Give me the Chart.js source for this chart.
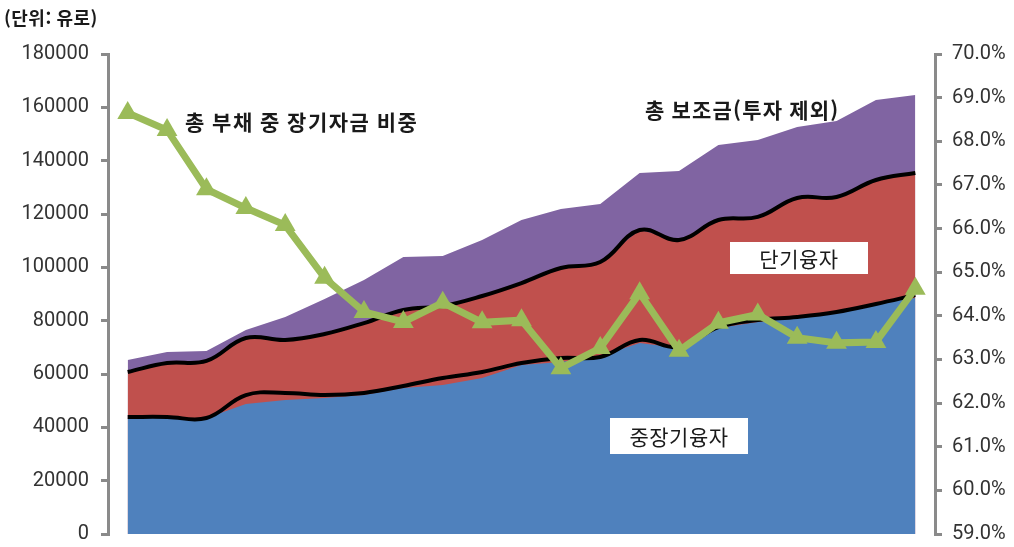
<!DOCTYPE html>
<html lang="ko">
<head>
<meta charset="utf-8">
<title>부채 구성과 장기자금 비중</title>
<script src="https://cdn.jsdelivr.net/npm/chart.js@4.4.1/dist/chart.umd.min.js"></script>
<style>
  html, body { margin: 0; padding: 0; background: #ffffff; }
  #wrap { width: 1014px; height: 547px; position: relative; }
  canvas { display: block; }
</style>
</head>
<body>
<div id="wrap"><canvas id="chart" width="1014" height="547"></canvas></div>
<script>
// Periods along the horizontal axis (no labels are printed for them)
const periods = ['1','2','3','4','5','6','7','8','9','10','11','12','13','14','15','16','17','18','19','20','21'];

// Stacked components, in euros
const longTermLoans  = [43500, 43500, 43500, 48750, 50250, 51000, 52100, 54750, 55900, 58500, 63400, 64500, 66750, 71600, 69750, 77250, 79500, 81000, 83250, 86600, 88500];
const shortTermLoans = [17250, 20600, 21400, 24750, 22500, 24000, 27000, 29250, 29600, 30750, 30700, 35250, 35250, 42400, 40500, 40500, 39400, 45000, 43150, 46150, 47500];
const subsidies      = [4500, 4150, 3700, 3000, 8650, 13100, 16150, 19900, 18750, 21000, 23650, 22150, 21750, 21400, 25850, 28150, 28850, 26600, 28500, 30000, 28600];

// Smoothed black trend lines, in euros
const longTermTrend  = [43900, 43900, 43500, 52100, 52900, 52100, 52900, 55500, 58500, 60750, 64100, 66000, 66400, 72750, 70100, 77600, 80250, 81400, 83250, 86250, 89600];
const loanTotalTrend = [60750, 64100, 64900, 73500, 72750, 75000, 79100, 84000, 85500, 89250, 94100, 99750, 102000, 114000, 110250, 117750, 118900, 126000, 126400, 132750, 135400];

// Share of long-term funds in total debt, in percent
const longTermShare  = [68.65, 68.26, 66.9, 66.47, 66.08, 64.87, 64.09, 63.86, 64.3, 63.85, 63.9, 62.8, 63.26, 64.52, 63.2, 63.84, 64.03, 63.5, 63.38, 63.4, 64.62];

// Axis ticks
const leftTicks  = { min: 0, max: 180000, step: 20000 };
const rightTicks = { min: 59, max: 70, step: 1 };

// Cumulative tops of the stacked areas
const loanTop  = longTermLoans.map((v, i) => v + shortTermLoans[i]);
const totalTop = loanTop.map((v, i) => v + subsidies[i]);

const COLORS = {
  blue: 'rgb(79,129,189)',
  red: 'rgb(192,80,77)',
  purple: 'rgb(128,100,162)',
  green: 'rgb(155,187,89)',
  axis: '#8a8a8a',
  text: '#333333'
};

const CJK = '"Noto Sans CJK KR", "Noto Sans CJK SC", sans-serif';

// Free-standing labels drawn over the plot
const labelPlugin = {
  id: 'chartLabels',
  afterDraw(chart) {
    const ctx = chart.ctx;
    ctx.save();
    ctx.textBaseline = 'middle';

    ctx.fillStyle = '#1a1a1a';
    ctx.textAlign = 'left';
    ctx.font = 'bold 18px ' + CJK;
    ctx.letterSpacing = '0.5px';
    ctx.fillText('(단위: 유로)', 4, 18);

    ctx.font = 'bold 21px ' + CJK;
    ctx.letterSpacing = '1.5px';
    ctx.fillText('총 부채 중 장기자금 비중', 185, 122);
    ctx.letterSpacing = '1.2px';
    ctx.fillText('총 보조금(투자 제외)', 645, 110);

    const boxes = [
      { text: '단기융자',   x: 730, y: 242, w: 138, h: 32 },
      { text: '중장기융자', x: 610, y: 418, w: 138, h: 36 }
    ];
    ctx.font = '21px ' + CJK;
    ctx.letterSpacing = '0.5px';
    ctx.textAlign = 'center';
    boxes.forEach(b => {
      ctx.fillStyle = '#ffffff';
      ctx.fillRect(b.x, b.y, b.w, b.h);
      ctx.fillStyle = '#1a1a1a';
      ctx.fillText(b.text, b.x + b.w / 2, b.y + b.h / 2 + 1);
    });
    ctx.restore();
  }
};

const tickFont = { family: 'Roboto, "Liberation Sans", sans-serif', size: 20 };

// Vertical axes: fixed widths, and no extra label padding above/below the plot
function fixAxis(width) {
  return scale => {
    scale.width = width;
    scale.paddingTop = 0;
    scale.paddingBottom = 0;
  };
}

new Chart(document.getElementById('chart'), {
  type: 'line',
  data: {
    labels: periods,
    datasets: [
      {
        label: '총 부채 중 장기자금 비중',
        data: longTermShare,
        yAxisID: 'y1',
        order: 0,
        borderColor: COLORS.green,
        backgroundColor: COLORS.green,
        borderWidth: 7,
        pointStyle: 'triangle',
        pointRadius: 12,
        pointBorderWidth: 0,
        pointBackgroundColor: COLORS.green,
        tension: 0,
        fill: false
      },
      {
        label: '융자 합계 추세',
        data: loanTotalTrend,
        yAxisID: 'y',
        order: 1,
        borderColor: '#000000',
        borderWidth: 4,
        pointRadius: 0,
        tension: 0.4,
        fill: false
      },
      {
        label: '중장기융자 추세',
        data: longTermTrend,
        yAxisID: 'y',
        order: 1,
        borderColor: '#000000',
        borderWidth: 4,
        pointRadius: 0,
        tension: 0.4,
        fill: false
      },
      {
        label: '중장기융자',
        data: longTermLoans,
        yAxisID: 'y',
        order: 2,
        borderWidth: 0,
        pointRadius: 0,
        tension: 0,
        backgroundColor: COLORS.blue,
        fill: 'origin'
      },
      {
        label: '단기융자',
        data: loanTop,
        yAxisID: 'y',
        order: 2,
        borderWidth: 0,
        pointRadius: 0,
        tension: 0,
        backgroundColor: COLORS.red,
        fill: 'origin'
      },
      {
        label: '총 보조금(투자 제외)',
        data: totalTop,
        yAxisID: 'y',
        order: 2,
        borderWidth: 0,
        pointRadius: 0,
        tension: 0,
        backgroundColor: COLORS.purple,
        fill: 'origin'
      }
    ]
  },
  options: {
    responsive: false,
    devicePixelRatio: 1,
    animation: false,
    layout: { padding: { top: 54, bottom: 13, left: 0, right: 0 } },
    plugins: {
      legend: { display: false },
      tooltip: { enabled: false }
    },
    scales: {
      x: {
        type: 'category',
        display: false,
        offset: true
      },
      y: {
        position: 'left',
        min: leftTicks.min,
        max: leftTicks.max,
        afterFit: fixAxis(108),
        border: { display: true, color: COLORS.axis, width: 3 },
        grid: { drawOnChartArea: false, drawTicks: true, tickLength: 7, color: COLORS.axis, lineWidth: 3 },
        ticks: {
          stepSize: leftTicks.step,
          color: COLORS.text,
          font: tickFont,
          padding: 12,
          callback: v => String(v)
        }
      },
      y1: {
        position: 'right',
        min: rightTicks.min,
        max: rightTicks.max,
        afterFit: fixAxis(79),
        border: { display: true, color: COLORS.axis, width: 3 },
        grid: { drawOnChartArea: false, drawTicks: true, tickLength: 7, color: COLORS.axis, lineWidth: 3 },
        ticks: {
          stepSize: rightTicks.step,
          color: COLORS.text,
          font: tickFont,
          padding: 10,
          callback: v => Number(v).toFixed(1) + '%'
        }
      }
    }
  },
  plugins: [labelPlugin]
});
</script>
</body>
</html>
